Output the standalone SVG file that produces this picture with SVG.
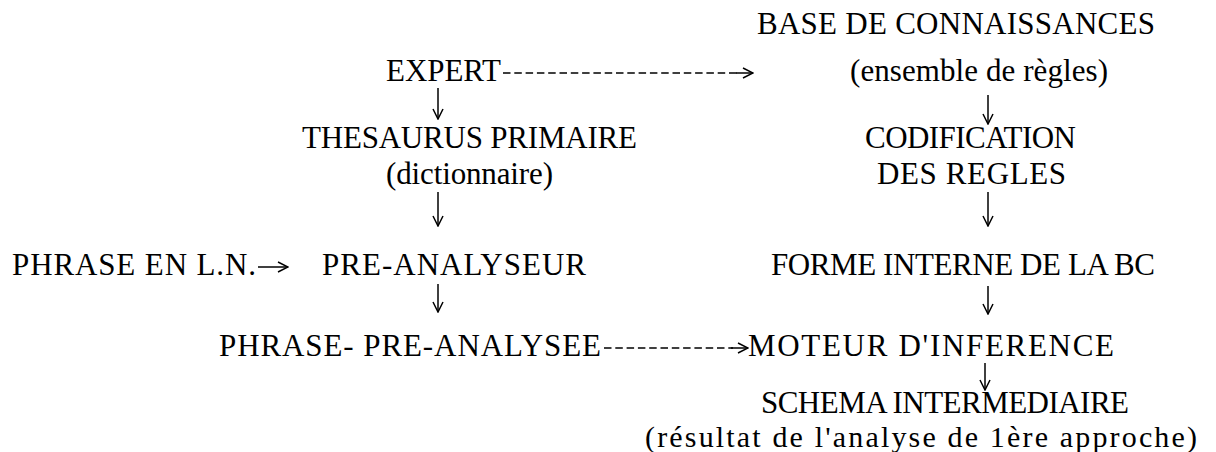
<svg xmlns="http://www.w3.org/2000/svg" width="1216" height="452" viewBox="0 0 1216 452">
<style>
.t{font-family:"Liberation Serif","Times New Roman",serif;font-size:31px;fill:#000}
.s{font-size:30px}
.c{stroke:#000;stroke-width:1.5;fill:none}
.d{stroke-dasharray:7.5 3.8}
</style>
<defs>
<marker id="ah" viewBox="0 0 12 12" refX="11" refY="6" markerWidth="12" markerHeight="12" markerUnits="userSpaceOnUse" orient="auto">
<path d="M1,1 L11,6 L1,11" fill="none" stroke="#000" stroke-width="1.5"/>
</marker>
</defs>
<rect width="1216" height="452" fill="#fff"/>
<g id="base"><text class="t" x="757" y="34" textLength="398">BASE DE CONNAISSANCES</text><text class="t" x="850" y="81" textLength="258">(ensemble de règles)</text></g>
<g id="expert"><text class="t" x="386" y="81" textLength="115">EXPERT</text></g>
<g id="thesaurus"><text class="t" x="302" y="148" textLength="335">THESAURUS PRIMAIRE</text><text class="t" x="386" y="184" textLength="167">(dictionnaire)</text></g>
<g id="codification"><text class="t" x="865" y="148" textLength="211">CODIFICATION</text><text class="t" x="877" y="184" textLength="189">DES REGLES</text></g>
<g id="phrase-ln"><text class="t" x="12" y="275" textLength="244">PHRASE EN L.N.</text></g>
<g id="preanalyseur"><text class="t" x="322" y="275" textLength="264">PRE-ANALYSEUR</text></g>
<g id="forme"><text class="t" x="771" y="275" textLength="384">FORME INTERNE DE LA BC</text></g>
<g id="phrase-pre"><text class="t" x="219" y="356" textLength="382">PHRASE- PRE-ANALYSEE</text></g>
<g id="moteur"><text class="t" x="748" y="356" textLength="366">MOTEUR D'INFERENCE</text></g>
<g id="schema"><text class="t" x="761" y="413" textLength="368">SCHEMA INTERMEDIAIRE</text><text class="t s" x="645" y="447" textLength="552">(résultat de l'analyse de 1ère approche)</text></g>
<g id="connectors">
<line class="c d" x1="503" y1="73" x2="738" y2="73"/>
<line class="c" x1="736" y1="73" x2="753" y2="73" marker-end="url(#ah)"/>
<line class="c" x1="438" y1="88" x2="438" y2="119" marker-end="url(#ah)"/>
<line class="c" x1="988" y1="95" x2="988" y2="124" marker-end="url(#ah)"/>
<line class="c" x1="438" y1="192" x2="438" y2="226" marker-end="url(#ah)"/>
<line class="c" x1="988" y1="192" x2="988" y2="226" marker-end="url(#ah)"/>
<line class="c" x1="258" y1="267" x2="288" y2="267" marker-end="url(#ah)"/>
<line class="c" x1="438" y1="284" x2="438" y2="312" marker-end="url(#ah)"/>
<line class="c" x1="988" y1="286" x2="988" y2="314" marker-end="url(#ah)"/>
<line class="c d" x1="604" y1="348" x2="733" y2="348"/>
<line class="c" x1="731" y1="348" x2="748" y2="348" marker-end="url(#ah)"/>
<line class="c" x1="985" y1="363" x2="985" y2="390" marker-end="url(#ah)"/>
</g>
</svg>
